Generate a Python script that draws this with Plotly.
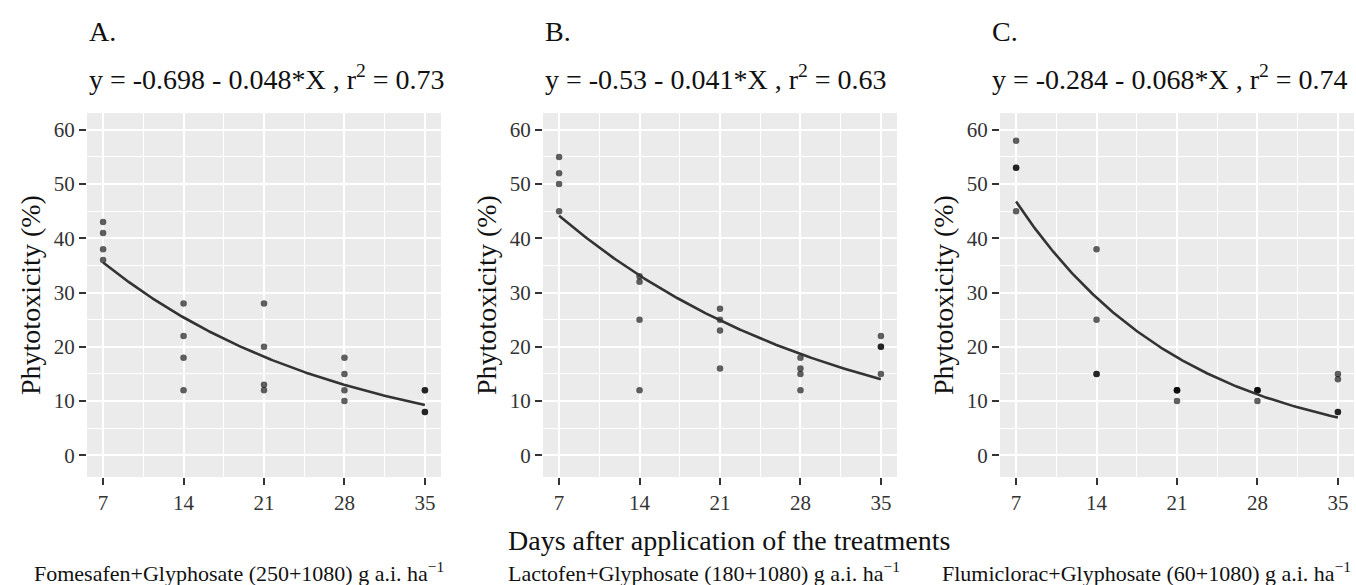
import numpy as np
import plotly.graph_objects as go

W, H = 1356, 585

# ---- data ----
days = [7, 14, 21, 28, 35]
xticks = [7, 14, 21, 28, 35]
yticks = [0, 10, 20, 30, 40, 50, 60]

# observations (4 replicates per day)
a_x = [7, 7, 7, 7, 14, 14, 14, 14, 21, 21, 21, 21, 28, 28, 28, 28, 35, 35, 35, 35]
a_y = [43, 41, 38, 36, 28, 22, 18, 12, 28, 20, 13, 12, 18, 15, 12, 10, 12, 12, 8, 8]

b_x = [7, 7, 7, 7, 14, 14, 14, 14, 21, 21, 21, 21, 28, 28, 28, 28, 35, 35, 35, 35]
b_y = [55, 52, 50, 45, 33, 32, 25, 12, 27, 25, 23, 16, 18, 16, 15, 12, 22, 20, 20, 15]

c_x = [7, 7, 7, 7, 14, 14, 14, 14, 21, 21, 21, 21, 28, 28, 28, 28, 35, 35, 35, 35]
c_y = [58, 53, 53, 45, 38, 25, 15, 15, 12, 12, 12, 10, 12, 12, 12, 10, 15, 14, 8, 8]

# fitted model coefficients: ln(y/100) = b0 + b1*X
intercepts = [-0.698, -0.53, -0.284]
slopes = [-0.048, -0.041, -0.068]
r2 = [0.73, 0.63, 0.74]
letters = ["A.", "B.", "C."]
captions = [
    "Fomesafen+Glyphosate (250+1080) g a.i. ha<sup>\u22121</sup>",
    "Lactofen+Glyphosate (180+1080) g a.i. ha<sup>\u22121</sup>",
    "Flumiclorac+Glyphosate (60+1080) g a.i. ha<sup>\u22121</sup>",
]
eq_texts = [
    "y = -0.698 - 0.048*X , r<sup>2</sup> = 0.73",
    "y = -0.53 - 0.041*X , r<sup>2</sup> = 0.63",
    "y = -0.284 - 0.068*X , r<sup>2</sup> = 0.74",
]
xs_all = [a_x, b_x, c_x]
ys_all = [a_y, b_y, c_y]

# ---- layout geometry (pixels) ----
FONT = "Liberation Serif"
plot_left = [87, 543, 1000]
text_left = [87, 543, 990]
plot_w = 354
plot_top, plot_bot = 113, 477
cap_pos = [(32, "left"), (506, "left"), (1353, "right")]

def px(x):
    return x / W

def py(y):
    return 1 - y / H

fig = go.Figure()
annotations = []
for i in range(3):
    ax = "" if i == 0 else str(i + 1)
    xs = np.linspace(7, 35, 200)
    fit = 100 * np.exp(intercepts[i] + slopes[i] * xs)
    fig.add_trace(go.Scatter(
        x=xs_all[i], y=ys_all[i], mode="markers",
        marker=dict(size=6.5, color="rgba(0,0,0,0.62)", line=dict(width=0)),
        xaxis="x" + ax, yaxis="y" + ax, showlegend=False, hoverinfo="x+y"))
    fig.add_trace(go.Scatter(
        x=xs, y=fit, mode="lines", line=dict(color="#333333", width=2.6),
        xaxis="x" + ax, yaxis="y" + ax, showlegend=False, hoverinfo="skip"))

    dom_x = [px(plot_left[i]), px(plot_left[i] + plot_w)]
    dom_y = [py(plot_bot), py(plot_top)]
    common = dict(
        showgrid=True, gridcolor="white", gridwidth=2,
        zeroline=False, showline=False,
        ticks="outside", ticklen=7, tickwidth=2.2, tickcolor="#333333",
        tickfont=dict(family=FONT, size=21, color="#333333"),
    )
    fig.update_layout(**{
        "xaxis" + ax: dict(
            domain=dom_x, range=[5.6, 36.4], tickmode="array", tickvals=xticks,
            anchor="y" + ax,
            minor=dict(showgrid=True, gridcolor="white", gridwidth=1,
                       tickmode="array", tickvals=[10.5, 17.5, 24.5, 31.5], ticks=""),
            **common),
        "yaxis" + ax: dict(
            domain=dom_y, range=[-4, 63.1], tickmode="array", tickvals=yticks,
            anchor="x" + ax,
            minor=dict(showgrid=True, gridcolor="white", gridwidth=1,
                       tickmode="array", tickvals=[5, 15, 25, 35, 45, 55], ticks=""),
            **common),
    })
    annotations.append(dict(x=px(text_left[i]), y=py(31), xref="paper", yref="paper",
                            text=letters[i], showarrow=False, xanchor="left", yanchor="middle",
                            font=dict(family=FONT, size=28, color="#111111")))
    annotations.append(dict(x=px(text_left[i]), y=py(78), xref="paper", yref="paper",
                            text=eq_texts[i], showarrow=False, xanchor="left", yanchor="middle",
                            font=dict(family=FONT, size=28, color="#111111")))
    annotations.append(dict(x=px(plot_left[i] - 57), y=py((plot_top + plot_bot) / 2),
                            xref="paper", yref="paper", text="Phytotoxicity (%)", textangle=-90,
                            showarrow=False, xanchor="center", yanchor="middle",
                            font=dict(family=FONT, size=28, color="#111111")))
    annotations.append(dict(x=px(cap_pos[i][0]), y=py(572), xref="paper", yref="paper",
                            text=captions[i], showarrow=False, xanchor=cap_pos[i][1],
                            yanchor="middle",
                            font=dict(family=FONT, size=22, color="#111111")))

annotations.append(dict(x=px(506), y=py(540), xref="paper", yref="paper",
                        text="Days after application of the treatments", showarrow=False,
                        xanchor="left", yanchor="middle",
                        font=dict(family=FONT, size=28, color="#111111")))

fig.update_layout(
    width=W, height=H, margin=dict(l=0, r=0, t=0, b=0),
    paper_bgcolor="white", plot_bgcolor="#ebebeb",
    annotations=annotations,
)
fig.write_html(
    "out.html",
    config={"displayModeBar": False},
    post_script="document.body.style.margin='0';document.body.style.overflow='hidden';",
)
